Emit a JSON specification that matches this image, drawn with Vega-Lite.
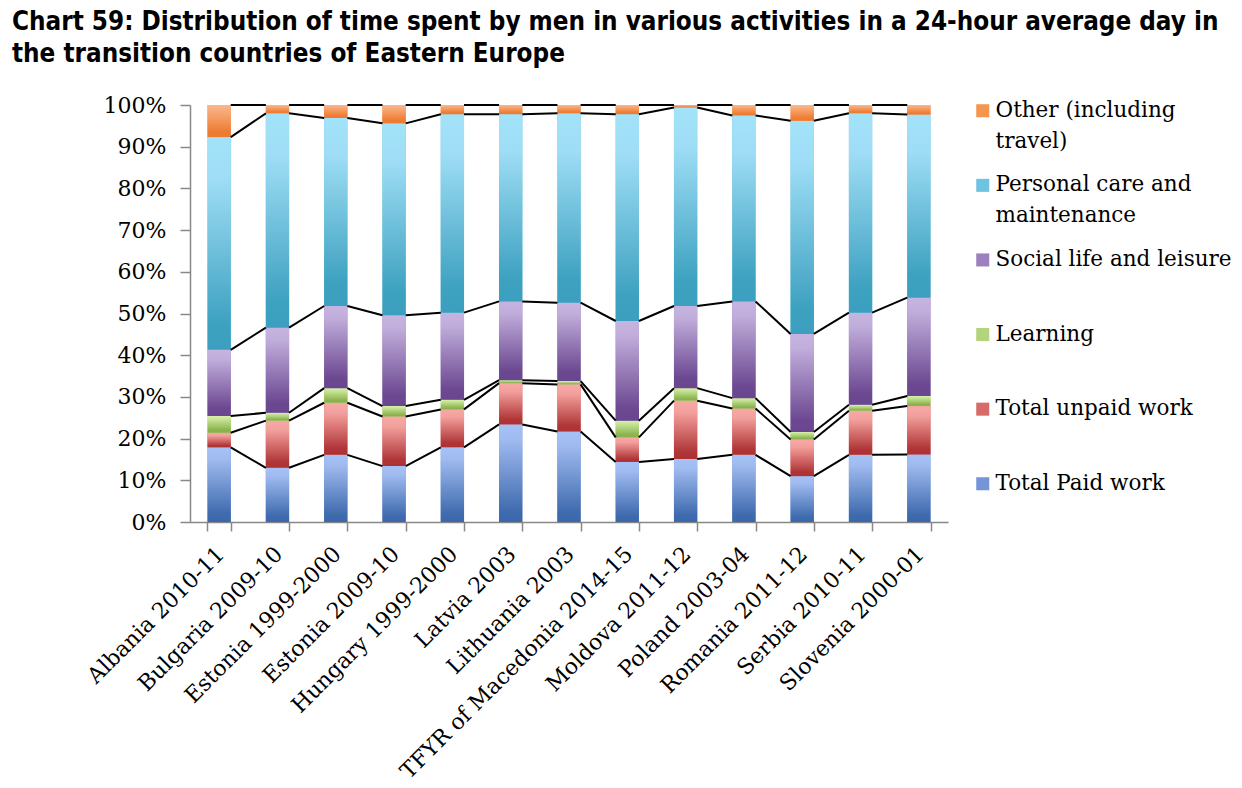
{
  "$schema": "https://vega.github.io/schema/vega-lite/v6.json",
  "width": 758,
  "height": 417,
  "autosize": {"type": "none"},
  "padding": {"left": 190, "top": 105, "right": 294, "bottom": 266},
  "background": "white",
  "config": {
    "view": {"stroke": null},
    "style": {"guide-label": {"lineHeight": 31}}
  },
  "title": {
    "text": ["Chart 59: Distribution of time spent by men in various activities in a 24-hour average day in", "the transition countries of Eastern Europe"],
    "anchor": "start",
    "frame": "group",
    "dx": -178,
    "dy": 4,
    "font": "DejaVu Sans Condensed, Liberation Sans Narrow, Roboto",
    "fontSize": 25.8,
    "fontWeight": "bold",
    "color": "black",
    "lineHeight": 32,
    "offset": 30
  },
  "data": {
    "values": [
      {"country": "Albania 2010-11", "activity": "Total Paid work", "share": 17.9},
      {"country": "Albania 2010-11", "activity": "Total unpaid work", "share": 3.5},
      {"country": "Albania 2010-11", "activity": "Learning", "share": 4.0},
      {"country": "Albania 2010-11", "activity": "Social life and leisure", "share": 15.9},
      {"country": "Albania 2010-11", "activity": "Personal care and maintenance", "share": 51.0},
      {"country": "Albania 2010-11", "activity": "Other (including travel)", "share": 7.7},
      {"country": "Bulgaria 2009-10", "activity": "Total Paid work", "share": 13.0},
      {"country": "Bulgaria 2009-10", "activity": "Total unpaid work", "share": 11.3},
      {"country": "Bulgaria 2009-10", "activity": "Learning", "share": 1.9},
      {"country": "Bulgaria 2009-10", "activity": "Social life and leisure", "share": 20.4},
      {"country": "Bulgaria 2009-10", "activity": "Personal care and maintenance", "share": 51.4},
      {"country": "Bulgaria 2009-10", "activity": "Other (including travel)", "share": 2.0},
      {"country": "Estonia 1999-2000", "activity": "Total Paid work", "share": 16.1},
      {"country": "Estonia 1999-2000", "activity": "Total unpaid work", "share": 12.5},
      {"country": "Estonia 1999-2000", "activity": "Learning", "share": 3.5},
      {"country": "Estonia 1999-2000", "activity": "Social life and leisure", "share": 19.7},
      {"country": "Estonia 1999-2000", "activity": "Personal care and maintenance", "share": 45.1},
      {"country": "Estonia 1999-2000", "activity": "Other (including travel)", "share": 3.1},
      {"country": "Estonia 2009-10", "activity": "Total Paid work", "share": 13.4},
      {"country": "Estonia 2009-10", "activity": "Total unpaid work", "share": 11.9},
      {"country": "Estonia 2009-10", "activity": "Learning", "share": 2.5},
      {"country": "Estonia 2009-10", "activity": "Social life and leisure", "share": 21.8},
      {"country": "Estonia 2009-10", "activity": "Personal care and maintenance", "share": 46.0},
      {"country": "Estonia 2009-10", "activity": "Other (including travel)", "share": 4.4},
      {"country": "Hungary 1999-2000", "activity": "Total Paid work", "share": 17.9},
      {"country": "Hungary 1999-2000", "activity": "Total unpaid work", "share": 9.1},
      {"country": "Hungary 1999-2000", "activity": "Learning", "share": 2.3},
      {"country": "Hungary 1999-2000", "activity": "Social life and leisure", "share": 20.9},
      {"country": "Hungary 1999-2000", "activity": "Personal care and maintenance", "share": 47.6},
      {"country": "Hungary 1999-2000", "activity": "Other (including travel)", "share": 2.2},
      {"country": "Latvia 2003", "activity": "Total Paid work", "share": 23.4},
      {"country": "Latvia 2003", "activity": "Total unpaid work", "share": 9.9},
      {"country": "Latvia 2003", "activity": "Learning", "share": 0.7},
      {"country": "Latvia 2003", "activity": "Social life and leisure", "share": 18.9},
      {"country": "Latvia 2003", "activity": "Personal care and maintenance", "share": 44.9},
      {"country": "Latvia 2003", "activity": "Other (including travel)", "share": 2.2},
      {"country": "Lithuania 2003", "activity": "Total Paid work", "share": 21.7},
      {"country": "Lithuania 2003", "activity": "Total unpaid work", "share": 11.3},
      {"country": "Lithuania 2003", "activity": "Learning", "share": 0.8},
      {"country": "Lithuania 2003", "activity": "Social life and leisure", "share": 18.8},
      {"country": "Lithuania 2003", "activity": "Personal care and maintenance", "share": 45.4},
      {"country": "Lithuania 2003", "activity": "Other (including travel)", "share": 2.0},
      {"country": "TFYR of Macedonia 2014-15", "activity": "Total Paid work", "share": 14.4},
      {"country": "TFYR of Macedonia 2014-15", "activity": "Total unpaid work", "share": 5.9},
      {"country": "TFYR of Macedonia 2014-15", "activity": "Learning", "share": 4.0},
      {"country": "TFYR of Macedonia 2014-15", "activity": "Social life and leisure", "share": 23.9},
      {"country": "TFYR of Macedonia 2014-15", "activity": "Personal care and maintenance", "share": 49.6},
      {"country": "TFYR of Macedonia 2014-15", "activity": "Other (including travel)", "share": 2.2},
      {"country": "Moldova 2011-12", "activity": "Total Paid work", "share": 15.1},
      {"country": "Moldova 2011-12", "activity": "Total unpaid work", "share": 14.0},
      {"country": "Moldova 2011-12", "activity": "Learning", "share": 3.0},
      {"country": "Moldova 2011-12", "activity": "Social life and leisure", "share": 19.7},
      {"country": "Moldova 2011-12", "activity": "Personal care and maintenance", "share": 47.6},
      {"country": "Moldova 2011-12", "activity": "Other (including travel)", "share": 0.6},
      {"country": "Poland 2003-04", "activity": "Total Paid work", "share": 16.1},
      {"country": "Poland 2003-04", "activity": "Total unpaid work", "share": 11.1},
      {"country": "Poland 2003-04", "activity": "Learning", "share": 2.5},
      {"country": "Poland 2003-04", "activity": "Social life and leisure", "share": 23.2},
      {"country": "Poland 2003-04", "activity": "Personal care and maintenance", "share": 44.6},
      {"country": "Poland 2003-04", "activity": "Other (including travel)", "share": 2.5},
      {"country": "Romania 2011-12", "activity": "Total Paid work", "share": 11.0},
      {"country": "Romania 2011-12", "activity": "Total unpaid work", "share": 8.8},
      {"country": "Romania 2011-12", "activity": "Learning", "share": 1.8},
      {"country": "Romania 2011-12", "activity": "Social life and leisure", "share": 23.5},
      {"country": "Romania 2011-12", "activity": "Personal care and maintenance", "share": 51.1},
      {"country": "Romania 2011-12", "activity": "Other (including travel)", "share": 3.8},
      {"country": "Serbia 2010-11", "activity": "Total Paid work", "share": 16.1},
      {"country": "Serbia 2010-11", "activity": "Total unpaid work", "share": 10.6},
      {"country": "Serbia 2010-11", "activity": "Learning", "share": 1.4},
      {"country": "Serbia 2010-11", "activity": "Social life and leisure", "share": 22.1},
      {"country": "Serbia 2010-11", "activity": "Personal care and maintenance", "share": 47.8},
      {"country": "Serbia 2010-11", "activity": "Other (including travel)", "share": 2.0},
      {"country": "Slovenia 2000-01", "activity": "Total Paid work", "share": 16.2},
      {"country": "Slovenia 2000-01", "activity": "Total unpaid work", "share": 11.6},
      {"country": "Slovenia 2000-01", "activity": "Learning", "share": 2.4},
      {"country": "Slovenia 2000-01", "activity": "Social life and leisure", "share": 23.6},
      {"country": "Slovenia 2000-01", "activity": "Personal care and maintenance", "share": 43.9},
      {"country": "Slovenia 2000-01", "activity": "Other (including travel)", "share": 2.3}
    ]
  },
  "transform": [
    {"stack": "share", "groupby": ["country"], "as": ["y0", "y1"]}
  ],
  "encoding": {
    "x": {
      "field": "country",
      "type": "nominal",
      "sort": null,
      "scale": {
        "domain": ["Albania 2010-11", "Bulgaria 2009-10", "Estonia 1999-2000", "Estonia 2009-10", "Hungary 1999-2000", "Latvia 2003", "Lithuania 2003", "TFYR of Macedonia 2014-15", "Moldova 2011-12", "Poland 2003-04", "Romania 2011-12", "Serbia 2010-11", "Slovenia 2000-01"],
        "paddingInner": 0.6,
        "paddingOuter": 0.3
      },
      "axis": {
        "title": null,
        "labelAngle": -45,
        "labelFont": "DejaVu Serif",
        "labelFontSize": 22,
        "labelColor": "black",
        "labelLimit": 400,
        "labelPadding": 12,
        "labelOffset": -6,
        "domainColor": "#888888",
        "domainWidth": 1.5,
        "tickColor": "#888888",
        "tickWidth": 1.5,
        "tickSize": 9,
        "tickBand": "extent"
      }
    },
    "y": {
      "field": "y1",
      "type": "quantitative",
      "scale": {"domain": [0, 100], "nice": false},
      "axis": {
        "title": null,
        "values": [0, 10, 20, 30, 40, 50, 60, 70, 80, 90, 100],
        "labelExpr": "datum.value + '%'",
        "labelFont": "DejaVu Serif",
        "labelFontSize": 22,
        "labelColor": "black",
        "labelPadding": 14,
        "grid": false,
        "domainColor": "#888888",
        "domainWidth": 1.5,
        "tickColor": "#888888",
        "tickWidth": 1.5,
        "tickSize": 10
      }
    }
  },
  "layer": [
    {
      "mark": {"type": "bar"},
      "encoding": {
        "y2": {"field": "y0"},
        "color": {
          "field": "activity",
          "type": "nominal",
          "scale": {
            "domain": ["Other (including travel)", "Personal care and maintenance", "Social life and leisure", "Learning", "Total unpaid work", "Total Paid work"],
            "range": ["#F5964F", "#6EC4E0", "#9C80BF", "#B2D47C", "#D66C6A", "#7496D8"]
          },
          "legend": {
            "orient": "none",
            "legendX": 782,
            "legendY": -5,
            "title": null,
            "symbolType": "square",
            "symbolSize": 170,
            "symbolStrokeWidth": 0,
            "labelFont": "DejaVu Serif",
            "labelFontSize": 21.5,
            "labelColor": "black",
            "labelLimit": 400,
            "labelOffset": 2,
            "gridAlign": "all",
            "rowPadding": 20.6,
            "labelExpr": "datum.label == 'Other (including travel)' ? ['Other (including', 'travel)'] : datum.label == 'Personal care and maintenance' ? ['Personal care and', 'maintenance'] : datum.label"
          }
        }
      }
    },
    {
      "mark": {"type": "bar"},
      "encoding": {
        "y2": {"field": "y0"},
        "fill": {
          "condition": [
            {"test": "datum.activity == 'Other (including travel)'", "value": {"gradient": "linear", "x1": 0, "y1": 0, "x2": 0, "y2": 1, "stops": [{"offset": 0, "color": "#FBB88C"}, {"offset": 0.85, "color": "#EE7B32"}, {"offset": 1, "color": "#EE7B32"}]}},
            {"test": "datum.activity == 'Personal care and maintenance'", "value": {"gradient": "linear", "x1": 0, "y1": 0, "x2": 0, "y2": 1, "stops": [{"offset": 0, "color": "#A3E3FA"}, {"offset": 0.2, "color": "#9EDDF5"}, {"offset": 0.88, "color": "#3DA1C0"}, {"offset": 1, "color": "#3C9FBF"}]}},
            {"test": "datum.activity == 'Social life and leisure'", "value": {"gradient": "linear", "x1": 0, "y1": 0, "x2": 0, "y2": 1, "stops": [{"offset": 0, "color": "#C6B4E0"}, {"offset": 0.15, "color": "#C0ADDB"}, {"offset": 0.88, "color": "#6C4891"}, {"offset": 1, "color": "#6A4690"}]}},
            {"test": "datum.activity == 'Learning'", "value": {"gradient": "linear", "x1": 0, "y1": 0, "x2": 0, "y2": 1, "stops": [{"offset": 0, "color": "#DAF2AC"}, {"offset": 0.85, "color": "#8AB34D"}, {"offset": 1, "color": "#88B24A"}]}},
            {"test": "datum.activity == 'Total unpaid work'", "value": {"gradient": "linear", "x1": 0, "y1": 0, "x2": 0, "y2": 1, "stops": [{"offset": 0, "color": "#F7A8A5"}, {"offset": 0.2, "color": "#F3A09D"}, {"offset": 0.88, "color": "#B03537"}, {"offset": 1, "color": "#AC3133"}]}}
          ],
          "value": {"gradient": "linear", "x1": 0, "y1": 0, "x2": 0, "y2": 1, "stops": [{"offset": 0, "color": "#A6C1F6"}, {"offset": 0.15, "color": "#A0BBF0"}, {"offset": 0.9, "color": "#3E6AAE"}, {"offset": 1, "color": "#3B67AD"}]}
        }
      }
    },
    {
      "transform": [
        {"window": [{"op": "lead", "field": "y1", "as": "ny"}, {"op": "lead", "field": "country", "as": "nc"}], "groupby": ["activity"]},
        {"filter": "datum.nc != null"}
      ],
      "mark": {"type": "rule", "color": "black", "strokeWidth": 2, "xOffset": 11.6, "x2Offset": -11.6},
      "encoding": {
        "x2": {"field": "nc"},
        "y2": {"field": "ny"}
      }
    }
  ]
}
